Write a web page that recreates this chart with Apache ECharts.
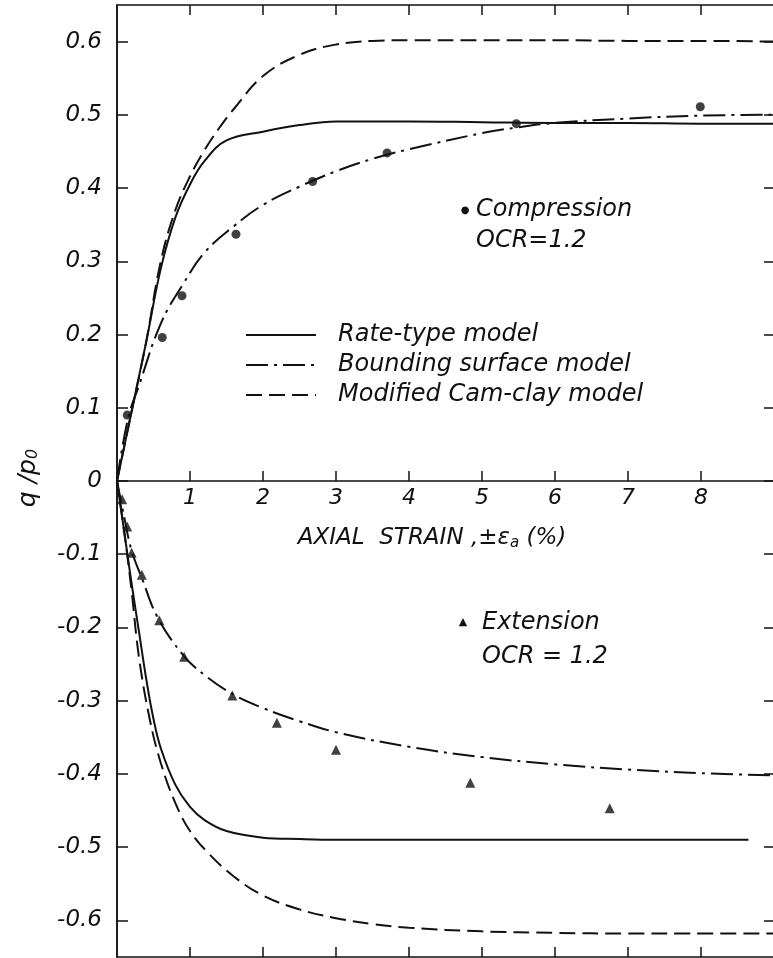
<!DOCTYPE html>
<html>
<head>
<meta charset="utf-8">
<script src="https://cdn.jsdelivr.net/npm/echarts@6/dist/echarts.min.js"></script>
<style>
  html, body { margin: 0; padding: 0; background: #fff; }
  #chart { width: 773px; height: 958px; }
</style>
</head>
<body>
<div id="chart"></div>
<script>
// axial strain (%) and q/p0
const compRateX = [0, 0.2, 0.4, 0.6, 0.8, 1.0, 1.2, 1.5, 2.0, 2.5, 3.0, 4.0, 5.0, 6.0, 7.0, 8.0, 9.0]
const compRateY = [0, 0.095, 0.19, 0.29, 0.36, 0.405, 0.437, 0.465, 0.477, 0.486, 0.491, 0.491, 0.49, 0.489, 0.489, 0.488, 0.488]

const compCamX = [0, 0.2, 0.4, 0.6, 0.8, 1.0, 1.2, 1.4, 1.6, 2.0, 2.5, 3.0, 3.5, 4.0, 5.0, 6.0, 7.0, 8.0, 9.0]
const compCamY = [0, 0.095, 0.19, 0.30, 0.37, 0.416, 0.452, 0.482, 0.508, 0.553, 0.582, 0.596, 0.601, 0.602, 0.602, 0.602, 0.601, 0.601, 0.600]

const compBoundX = [0, 0.15, 0.3, 0.6, 0.9, 1.2, 1.6, 2.0, 2.5, 3.0, 3.5, 4.0, 5.0, 5.5, 6.0, 7.0, 8.0, 9.0]
const compBoundY = [0, 0.085, 0.13, 0.215, 0.268, 0.312, 0.348, 0.377, 0.402, 0.423, 0.44, 0.453, 0.475, 0.483, 0.489, 0.495, 0.499, 0.500]

const extRateX = [0, 0.1, 0.2, 0.3, 0.4, 0.5, 0.6, 0.8, 1.0, 1.2, 1.5, 2.0, 2.5, 3.0, 4.0, 5.0, 6.0, 7.0, 8.0, 8.65]
const extRateY = [0, -0.07, -0.14, -0.205, -0.27, -0.325, -0.365, -0.415, -0.445, -0.463, -0.478, -0.487, -0.489, -0.49, -0.49, -0.49, -0.49, -0.49, -0.49, -0.49]

const extCamX = [0, 0.1, 0.2, 0.3, 0.45, 0.6, 0.8, 1.0, 1.25, 1.6, 2.0, 2.5, 3.0, 3.5, 4.0, 5.0, 6.0, 7.0, 8.0, 9.0]
const extCamY = [0, -0.07, -0.15, -0.24, -0.326, -0.385, -0.44, -0.478, -0.508, -0.54, -0.566, -0.585, -0.597, -0.605, -0.61, -0.615, -0.617, -0.618, -0.618, -0.618]

const extBoundX = [0, 0.1, 0.2, 0.35, 0.55, 0.9, 1.2, 1.6, 2.0, 2.5, 3.0, 4.0, 5.0, 6.0, 7.0, 8.0, 9.0]
const extBoundY = [0, -0.05, -0.095, -0.135, -0.185, -0.237, -0.265, -0.292, -0.31, -0.328, -0.343, -0.363, -0.377, -0.387, -0.394, -0.399, -0.402]

const compTestX = [0.14, 0.62, 0.89, 1.63, 2.68, 3.70, 5.47, 7.99]
const compTestY = [0.09, 0.196, 0.253, 0.337, 0.409, 0.448, 0.488, 0.511]

const extTestX = [0.07, 0.14, 0.20, 0.34, 0.58, 0.92, 1.58, 2.19, 3.0, 4.84, 6.75]
const extTestY = [-0.025, -0.062, -0.098, -0.128, -0.19, -0.24, -0.293, -0.33, -0.367, -0.412, -0.447]

const xTicks = [1, 2, 3, 4, 5, 6, 7, 8]
const yTicks = [-0.6, -0.5, -0.4, -0.3, -0.2, -0.1, 0, 0.1, 0.2, 0.3, 0.4, 0.5, 0.6]
const X_MIN = 0, X_MAX = 9
const Y_MIN = -0.65, Y_MAX = 0.65

const modelNames = ['Rate-type model', 'Bounding surface model', 'Modified Cam-clay model']

const FONT = 'DejaVu Sans'
const INK = '#111'

const zip = (xs, ys) => xs.map((x, i) => [x, ys[i]])

const solid = { color: INK, width: 2, type: 'solid' }
const dashDot = { color: INK, width: 2, type: [22, 6, 3, 6] }
const dashed = { color: INK, width: 2, type: [16, 7] }

function lineSeries(name, xs, ys, style) {
  return {
    name,
    type: 'line',
    data: zip(xs, ys),
    symbol: 'none',
    smooth: 0.4,
    lineStyle: style,
    itemStyle: { color: INK },
    silent: true
  }
}

// strain ticks on the top frame (pointing down), bottom frame and zero line (pointing up)
const strainTickRows = []
xTicks.forEach(x => {
  strainTickRows.push([x, Y_MAX, -1])
  strainTickRows.push([x, Y_MIN, 1])
  strainTickRows.push([x, 0, 1])
})

const chart = echarts.init(document.getElementById('chart'), null, { renderer: 'canvas' })

const tickStyle = { color: INK, width: 1.5 }

// plot frame: x 0..9 over 117..774 px, q/p0 -0.65..0.65 over 5..957 px
const PLOT = { left: 117, right: -1, top: 5, bottom: 1 }
// zero line sits halfway down the frame, so the upper half's bottom edge is the strain axis
const UPPER = { left: 117, right: -1, top: 5, height: 476 }

chart.setOption({
  animation: false,
  backgroundColor: '#fff',
  textStyle: { fontFamily: FONT, color: INK },
  grid: [
    Object.assign({ show: true, borderColor: INK, borderWidth: 1.5, backgroundColor: 'transparent', outerBoundsMode: 'none', containLabel: false }, PLOT),
    Object.assign({ show: false, outerBoundsMode: 'none', containLabel: false }, UPPER)
  ],
  legend: {
    orient: 'vertical',
    left: 240,
    top: 318,
    itemWidth: 70,
    itemHeight: 14,
    itemGap: 6,
    data: modelNames,
    itemStyle: { opacity: 0 },
    textStyle: {
      fontFamily: FONT, fontStyle: 'italic', fontSize: 24, color: INK,
      padding: [0, 0, 0, 17]
    }
  },
  xAxis: [
    {
      gridIndex: 0, type: 'value', min: X_MIN, max: X_MAX, position: 'bottom',
      axisLine: { show: false, onZero: false },
      axisTick: { show: false },
      axisLabel: { show: false },
      splitLine: { show: false }
    },
    {
      // the strain axis drawn along q/p0 = 0
      gridIndex: 1, type: 'value', min: X_MIN, max: X_MAX, interval: 1, position: 'bottom',
      axisLine: { show: true, onZero: false, lineStyle: { color: INK, width: 1.5 } },
      axisTick: { show: false },
      axisLabel: {
        show: true, margin: 6,
        fontFamily: FONT, fontStyle: 'italic', fontSize: 22, color: INK,
        formatter: v => (xTicks.includes(v) ? String(v) : '')
      },
      splitLine: { show: false }
    }
  ],
  yAxis: [
    {
      gridIndex: 0, type: 'value', min: Y_MIN, max: Y_MAX, position: 'left',
      axisLine: { show: true, onZero: false, lineStyle: { color: INK, width: 1.5 } },
      axisTick: { show: true, inside: true, length: 11, lineStyle: tickStyle, customValues: yTicks },
      axisLabel: {
        show: true, customValues: yTicks, margin: 15,
        fontFamily: FONT, fontStyle: 'italic', fontSize: 23, color: INK,
        formatter: v => (Math.abs(v) < 1e-9 ? '0' : v.toFixed(1))
      },
      splitLine: { show: false }
    },
    {
      gridIndex: 0, type: 'value', min: Y_MIN, max: Y_MAX, position: 'right',
      axisLine: { show: false, onZero: false },
      axisTick: { show: true, inside: true, length: 10, lineStyle: tickStyle, customValues: yTicks },
      axisLabel: { show: false },
      splitLine: { show: false }
    },
    {
      gridIndex: 1, type: 'value', min: 0, max: Y_MAX, position: 'left',
      axisLine: { show: false, onZero: false },
      axisTick: { show: false },
      axisLabel: { show: false },
      splitLine: { show: false }
    }
  ],
  graphic: [
    {
      type: 'text', x: 28, y: 478, rotation: Math.PI / 2,
      style: {
        text: 'q /p{s|0}', textAlign: 'center', textVerticalAlign: 'middle',
        font: 'italic 25px "DejaVu Sans"', fill: INK,
        rich: { s: { fontSize: 16, fontStyle: 'italic', fontFamily: FONT, padding: [10, 0, 0, 0] } }
      }
    },
    {
      type: 'text', x: 432, y: 538,
      style: {
        text: 'AXIAL  STRAIN ,±ε{s|a} (%)', textAlign: 'center', textVerticalAlign: 'middle',
        font: 'italic 23px "DejaVu Sans"', fill: INK,
        rich: { s: { fontSize: 15, fontStyle: 'italic', fontFamily: FONT, padding: [10, 0, 0, 0] } }
      }
    },
    { type: 'text', x: 465, y: 210, style: { text: '●', textAlign: 'center', textVerticalAlign: 'middle', font: '10px "DejaVu Sans"', fill: INK } },
    { type: 'text', x: 476, y: 210, style: { text: 'Compression', textVerticalAlign: 'middle', font: 'italic 24px "DejaVu Sans"', fill: INK } },
    { type: 'text', x: 476, y: 241, style: { text: 'OCR=1.2', textVerticalAlign: 'middle', font: 'italic 24px "DejaVu Sans"', fill: INK } },
    { type: 'text', x: 463, y: 622, style: { text: '▲', textAlign: 'center', textVerticalAlign: 'middle', font: '11px "DejaVu Sans"', fill: INK } },
    { type: 'text', x: 482, y: 623, style: { text: 'Extension', textVerticalAlign: 'middle', font: 'italic 24px "DejaVu Sans"', fill: INK } },
    { type: 'text', x: 482, y: 657, style: { text: 'OCR = 1.2', textVerticalAlign: 'middle', font: 'italic 24px "DejaVu Sans"', fill: INK } }
  ],
  series: [
    lineSeries(modelNames[0], compRateX, compRateY, solid),
    lineSeries(modelNames[1], compBoundX, compBoundY, dashDot),
    lineSeries(modelNames[2], compCamX, compCamY, dashed),
    lineSeries(modelNames[0], extRateX, extRateY, solid),
    lineSeries(modelNames[1], extBoundX, extBoundY, dashDot),
    lineSeries(modelNames[2], extCamX, extCamY, dashed),
    {
      name: 'Compression', type: 'scatter', data: zip(compTestX, compTestY),
      symbol: 'circle', symbolSize: 9, itemStyle: { color: INK }, z: 5
    },
    {
      name: 'Extension', type: 'scatter', data: zip(extTestX, extTestY),
      symbol: 'triangle', symbolSize: 10, itemStyle: { color: INK }, z: 5
    },
    {
      name: 'strain ticks', type: 'custom', data: strainTickRows, silent: true, clip: false,
      renderItem(params, api) {
        const p = api.coord([api.value(0), api.value(1)])
        const dir = api.value(2)
        return {
          type: 'line',
          shape: { x1: p[0], y1: p[1], x2: p[0], y2: p[1] - dir * 10 },
          style: { stroke: INK, lineWidth: 1.5 }
        }
      }
    }
  ]
})
</script>
</body>
</html>
